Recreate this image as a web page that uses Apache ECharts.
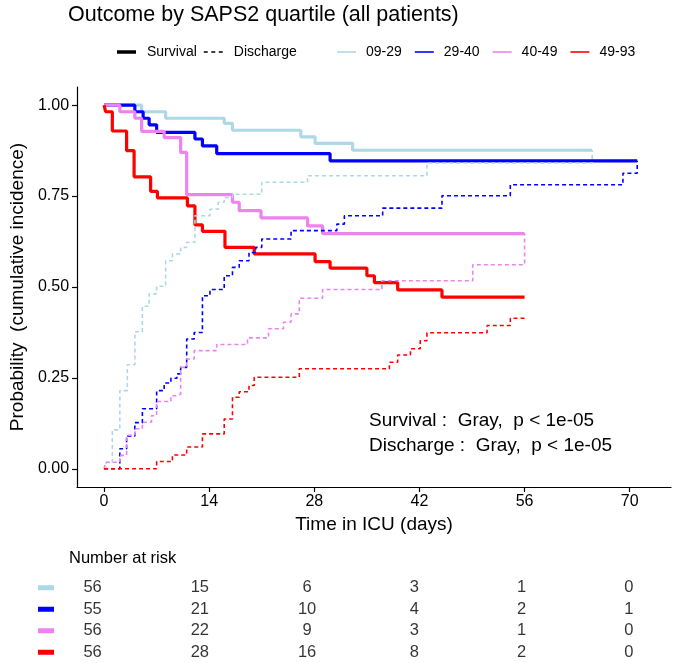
<!DOCTYPE html>
<html>
<head>
<meta charset="utf-8">
<script src="https://cdn.jsdelivr.net/npm/echarts@6/dist/echarts.min.js"></script>
<style>html,body{margin:0;padding:0;background:#fff}#c{width:674px;height:663px}</style>
</head>
<body>
<div id="c"></div>
<script>
// ---------- data ----------
const groups = ['09-29', '29-40', '40-49', '49-93'];
const colors = ['#ADD8E6', '#0000FF', '#EE82EE', '#FF0000'];
const xTicks = [0, 14, 28, 42, 56, 70];
const yTicks = [0, 0.25, 0.5, 0.75, 1];

// 09-29
const g1SurvTime = [0, 5.0, 8.2, 16.0, 17.1, 26.2, 28.1, 33.1, 65.0];
const g1SurvProb = [1, 0.982, 0.964, 0.950, 0.931, 0.913, 0.895, 0.876, 0.876];
const g1DiscTime = [0, 0.3, 1.1, 2.1, 3.1, 4.1, 5.1, 6.0, 7.0, 8.2, 9.1, 10.2, 11.0, 12.1, 14.1, 15.2, 16.0, 17.1, 21.0, 27.1, 43.0, 65.0];
const g1DiscProb = [0, 0.018, 0.107, 0.215, 0.286, 0.377, 0.447, 0.481, 0.502, 0.572, 0.591, 0.609, 0.623, 0.696, 0.714, 0.733, 0.746, 0.755, 0.788, 0.806, 0.841, 0.876];
// 29-40
const g2SurvTime = [0, 4.1, 5.2, 6.0, 7.0, 12.1, 13.1, 15.0, 30.1, 71.0];
const g2SurvProb = [1, 0.982, 0.964, 0.946, 0.925, 0.907, 0.888, 0.867, 0.847, 0.847];
const g2DiscTime = [0, 2.1, 3.0, 4.1, 5.1, 7.0, 8.0, 8.9, 9.7, 10.2, 11.0, 12.0, 13.1, 14.1, 16.0, 17.1, 18.0, 19.3, 20.2, 21.0, 24.9, 31.0, 32.0, 37.1, 45.0, 54.1, 69.1, 71.0];
const g2DiscProb = [0, 0.055, 0.090, 0.127, 0.165, 0.215, 0.236, 0.249, 0.261, 0.279, 0.357, 0.375, 0.476, 0.493, 0.531, 0.554, 0.572, 0.595, 0.609, 0.632, 0.655, 0.673, 0.696, 0.717, 0.751, 0.781, 0.813, 0.847];
// 40-49
const g3SurvTime = [0, 2.1, 4.1, 5.0, 8.0, 10.2, 11.0, 17.1, 18.0, 20.9, 27.1, 29.1, 56.0];
const g3SurvProb = [1, 0.982, 0.964, 0.928, 0.911, 0.870, 0.754, 0.733, 0.710, 0.690, 0.668, 0.647, 0.647];
const g3DiscTime = [0, 0.2, 2.1, 3.0, 4.1, 5.1, 6.3, 7.0, 8.9, 9.7, 10.2, 11.0, 12.0, 15.0, 19.1, 21.9, 23.9, 24.9, 26.0, 29.1, 37.0, 49.1, 56.0];
const g3DiscProb = [0, 0.018, 0.037, 0.092, 0.110, 0.128, 0.146, 0.185, 0.201, 0.206, 0.279, 0.302, 0.325, 0.342, 0.360, 0.385, 0.403, 0.426, 0.469, 0.493, 0.517, 0.561, 0.647];
// 49-93
const g4SurvTime = [0, 0.2, 1.1, 3.0, 4.0, 6.2, 7.1, 11.1, 12.1, 13.1, 16.1, 20.0, 28.1, 30.1, 35.0, 36.0, 39.1, 45.0, 56.0];
const g4SurvProb = [1, 0.982, 0.929, 0.875, 0.803, 0.763, 0.745, 0.723, 0.671, 0.653, 0.609, 0.591, 0.570, 0.552, 0.531, 0.512, 0.492, 0.472, 0.472];
const g4DiscTime = [0, 7.0, 9.1, 11.0, 13.1, 16.0, 17.1, 18.0, 19.3, 20.0, 26.0, 38.0, 39.1, 40.8, 42.1, 43.0, 51.0, 54.1, 56.0];
const g4DiscProb = [0, 0.020, 0.038, 0.060, 0.096, 0.137, 0.197, 0.212, 0.229, 0.252, 0.275, 0.293, 0.313, 0.330, 0.352, 0.374, 0.394, 0.414, 0.414];

// number at risk
const riskTimes = [0, 14, 28, 42, 56, 70];
const risk1 = [56, 15, 6, 3, 1, 0];
const risk2 = [55, 21, 10, 4, 2, 1];
const risk3 = [56, 22, 9, 3, 1, 0];
const risk4 = [56, 28, 16, 8, 2, 0];

// ---------- build ----------
const FONT = '"Liberation Sans", Arial, Helvetica, sans-serif';
const survTimes = [g1SurvTime, g2SurvTime, g3SurvTime, g4SurvTime];
const survProbs = [g1SurvProb, g2SurvProb, g3SurvProb, g4SurvProb];
const discTimes = [g1DiscTime, g2DiscTime, g3DiscTime, g4DiscTime];
const discProbs = [g1DiscProb, g2DiscProb, g3DiscProb, g4DiscProb];
const risks = [risk1, risk2, risk3, risk4];
const zip = (a, b) => a.map((v, i) => [v, b[i]]);

const series = [];
series.push({ name: 'Survival', type: 'line', data: [], color: '#000', symbol: 'none' });
series.push({ name: 'Discharge', type: 'line', data: [], color: '#000', symbol: 'none' });
groups.forEach((g, i) => {
  series.push({
    name: g, type: 'line', step: 'end', symbol: 'none', color: colors[i],
    data: zip(survTimes[i], survProbs[i]),
    lineStyle: { width: 3.2, color: colors[i] }, z: 3
  });
});
groups.forEach((g, i) => {
  series.push({
    name: g, type: 'line', step: 'end', symbol: 'none', color: colors[i],
    data: zip(discTimes[i], discProbs[i]),
    lineStyle: { width: 1.6, type: [4, 3], color: colors[i] }, z: 4
  });
});
groups.forEach((g, i) => {
  series.push({
    name: 'risk ' + g, type: 'scatter', xAxisIndex: 1, yAxisIndex: 1,
    symbolSize: 1, itemStyle: { color: 'rgba(0,0,0,0)' },
    data: riskTimes.map((t, k) => [t, g, risks[i][k]]),
    label: { show: true, position: 'inside', formatter: p => String(p.value[2]),
      color: '#000', fontSize: 16.5, fontFamily: FONT },
    silent: true
  });
});

const rich = {};
colors.forEach((c, i) => { rich['s' + i] = { backgroundColor: c, width: 16, height: 5, lineHeight: 5, fontSize: 5 }; });

const axisLineStyle = { show: true, onZero: false, lineStyle: { color: '#000', width: 1.2 } };
const tickStyle = { show: true, inside: false, length: 5, lineStyle: { color: '#000', width: 1.2 } };

const option = {
  animation: false,
  backgroundColor: '#fff',
  textStyle: { fontFamily: FONT },
  title: [
    { text: 'Outcome by SAPS2 quartile (all patients)', left: 63, top: -1,
      textStyle: { fontSize: 21.5, fontWeight: 'normal', color: '#000', fontFamily: FONT } },
    { text: 'Number at risk', left: 64, top: 545,
      textStyle: { fontSize: 16.5, fontWeight: 'normal', color: '#000', fontFamily: FONT } }
  ],
  legend: [
    { left: 112, top: 40, itemWidth: 19, itemHeight: 10, itemGap: 7,
      textStyle: { fontSize: 14, color: '#000', fontFamily: FONT, padding: [0, 0, 0, 6] },
      data: [
        { name: 'Survival', icon: 'path://M0,0h19v3.5h-19z', itemStyle: { color: '#000' } },
        { name: 'Discharge', icon: 'path://M0,0h4v1.5h-4zM7.5,0h4v1.5h-4zM15,0h4v1.5h-4z', itemStyle: { color: '#000' } }
      ], selectedMode: false },
    { left: 332, top: 40, itemWidth: 19, itemHeight: 10, itemGap: 13,
      textStyle: { fontSize: 14, color: '#000', fontFamily: FONT, padding: [0, 0, 0, 5] },
      data: groups.map((g, i) => ({ name: g, icon: 'path://M0,0h19v1.6h-19z', itemStyle: { color: colors[i] } })),
      selectedMode: false }
  ],
  grid: [
    { left: 65, right: 3, top: 87, height: 400, containLabel: false },
    { left: 65, right: 3, top: 577, height: 88, containLabel: false }
  ],
  xAxis: [
    {
      type: 'value', gridIndex: 0, min: -3.6, max: 75.5,
      axisLine: axisLineStyle, splitLine: { show: false },
      axisTick: Object.assign({}, tickStyle, { customValues: xTicks }),
      axisLabel: { customValues: xTicks, color: '#000', fontSize: 16, margin: 7, fontFamily: FONT },
      name: 'Time in ICU (days)', nameLocation: 'middle', nameGap: 26,
      nameTextStyle: { fontSize: 19, color: '#000', fontFamily: FONT }
    },
    { type: 'value', gridIndex: 1, min: -3.6, max: 75.5, show: false }
  ],
  yAxis: [
    {
      type: 'value', gridIndex: 0, min: -0.05, max: 1.05,
      axisLine: axisLineStyle, splitLine: { show: false },
      axisTick: Object.assign({}, tickStyle, { customValues: yTicks }),
      axisLabel: { customValues: yTicks, color: '#000', fontSize: 16, margin: 8, fontFamily: FONT,
        formatter: v => v.toFixed(2) },
      name: 'Probability  (cumulative incidence)', nameLocation: 'middle', nameGap: 43,
      nameTextStyle: { fontSize: 19, color: '#000', fontFamily: FONT }
    },
    { type: 'category', gridIndex: 1, data: groups, inverse: true,
      axisLine: { show: false }, axisTick: { show: false }, splitLine: { show: false },
      axisLabel: { margin: 11, formatter: (v, idx) => '{s' + idx + '| }', rich: rich } }
  ],
  graphic: [
    { type: 'text', left: 369, top: 408,
      style: { text: 'Survival :  Gray,  p < 1e-05\nDischarge :  Gray,  p < 1e-05',
        font: '19px "Liberation Sans", Arial, sans-serif', lineHeight: 25, fill: '#000' } }
  ],
  series: series
};

const chart = echarts.init(document.getElementById('c'), null, { renderer: 'canvas' });
chart.setOption(option);
</script>
</body>
</html>
